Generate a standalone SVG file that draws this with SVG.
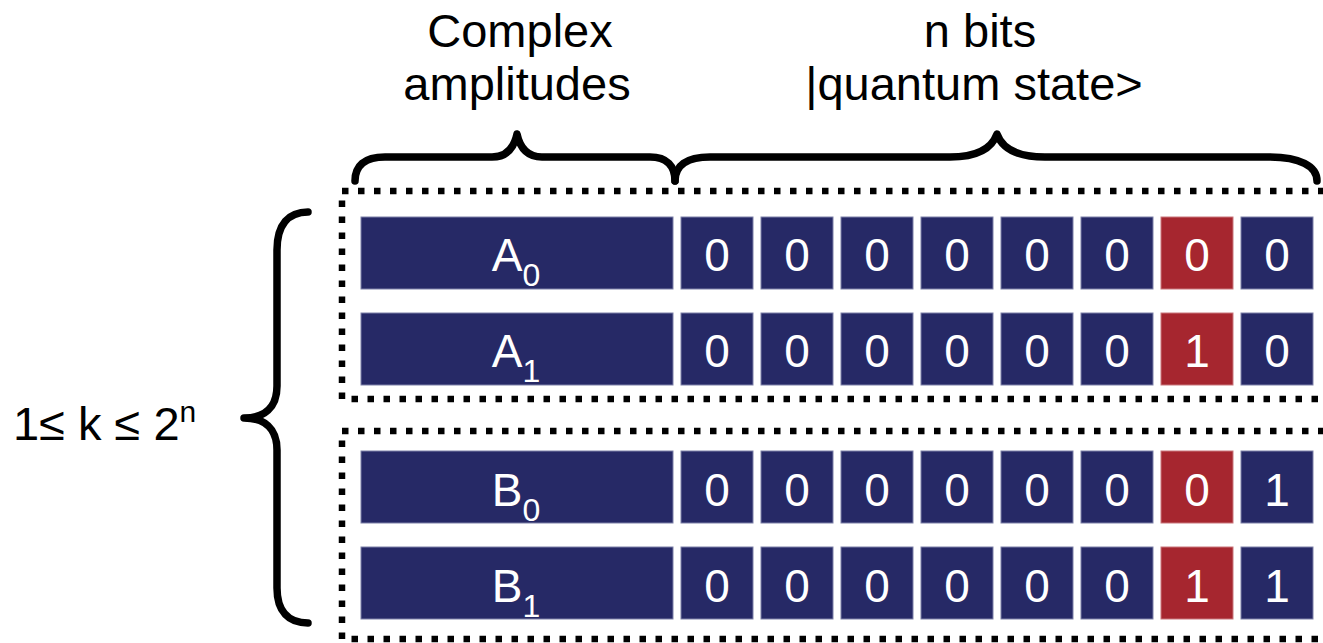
<svg xmlns="http://www.w3.org/2000/svg" width="1323" height="643" viewBox="0 0 1323 643">
  <style>
    .lbl { font-family: "Liberation Sans", Arial, sans-serif; fill: #000; font-size: 47px; text-anchor: middle; }
    .cell { fill: #262966; stroke: #7d80a8; stroke-width: 1; }
    .hot { fill: #a6262f; stroke: #c9777c; stroke-width: 1; }
    .txt { font-family: "Liberation Sans", Arial, sans-serif; fill: #fff; font-size: 46px; text-anchor: middle; }
    .brace { fill: none; stroke: #000; stroke-width: 7.5; stroke-linecap: round; stroke-linejoin: round; }
    .group { fill: none; stroke: #000; stroke-width: 6.5; stroke-dasharray: 6.5 9.5; }
  </style>
  <rect width="1323" height="643" fill="#fff"/>

  <!-- headings -->
  <g id="heading-amplitudes">
    <text class="lbl" x="520" y="47">Complex</text>
    <text class="lbl" x="517" y="100">amplitudes</text>
  </g>
  <g id="heading-bits">
    <text class="lbl" x="980" y="47">n bits</text>
    <text class="lbl" x="974" y="100">|quantum state&gt;</text>
  </g>
  <g id="heading-k">
    <text class="lbl" x="13" y="440" style="text-anchor:start">1≤ k ≤ 2<tspan font-size="30" dy="-18">n</tspan></text>
  </g>

  <!-- braces -->
  <g id="braces">
    <path class="brace" d="M355,181 C355,166 364,157 385,157 L492,157 C507,157 514,148 517,134 C520,148 527,157 542,157 L650,157 C667,157 675,166 675,181"/>
    <path class="brace" d="M675,181 C675,166 686,157 710,157 L950,157 C978,157 992,148 997,134 C1002,148 1016,157 1045,157 L1268,157 C1300,157 1317,166 1317,181"/>
    <path class="brace" d="M308,212 C289,212 277,224 277,250 L277,386 C277,408 264,418 244,418 C264,418 277,428 277,450 L277,588 C277,612 289,623 308,623"/>
  </g>

  <!-- dotted groupings -->
  <g id="group-a">
    <rect class="group" x="342" y="191" width="1000" height="208"/>
  </g>
  <g id="group-b">
    <rect class="group" x="342" y="431" width="1000" height="208"/>
  </g>

  <!-- row A0 -->
  <g id="row-a0">
    <rect class="cell" x="361" y="217" width="312" height="72"/>
    <text class="txt" x="516" y="271">A<tspan font-size="32" dy="15">0</tspan></text>
    <rect class="cell" x="681" y="217" width="72" height="72"/><text class="txt" x="717" y="271">0</text>
    <rect class="cell" x="761" y="217" width="72" height="72"/><text class="txt" x="797" y="271">0</text>
    <rect class="cell" x="841" y="217" width="72" height="72"/><text class="txt" x="877" y="271">0</text>
    <rect class="cell" x="921" y="217" width="72" height="72"/><text class="txt" x="957" y="271">0</text>
    <rect class="cell" x="1001" y="217" width="72" height="72"/><text class="txt" x="1037" y="271">0</text>
    <rect class="cell" x="1081" y="217" width="72" height="72"/><text class="txt" x="1117" y="271">0</text>
    <rect class="hot" x="1161" y="217" width="72" height="72"/><text class="txt" x="1197" y="271">0</text>
    <rect class="cell" x="1241" y="217" width="72" height="72"/><text class="txt" x="1277" y="271">0</text>
  </g>

  <!-- row A1 -->
  <g id="row-a1">
    <rect class="cell" x="361" y="313" width="312" height="72"/>
    <text class="txt" x="516" y="367">A<tspan font-size="32" dy="15">1</tspan></text>
    <rect class="cell" x="681" y="313" width="72" height="72"/><text class="txt" x="717" y="367">0</text>
    <rect class="cell" x="761" y="313" width="72" height="72"/><text class="txt" x="797" y="367">0</text>
    <rect class="cell" x="841" y="313" width="72" height="72"/><text class="txt" x="877" y="367">0</text>
    <rect class="cell" x="921" y="313" width="72" height="72"/><text class="txt" x="957" y="367">0</text>
    <rect class="cell" x="1001" y="313" width="72" height="72"/><text class="txt" x="1037" y="367">0</text>
    <rect class="cell" x="1081" y="313" width="72" height="72"/><text class="txt" x="1117" y="367">0</text>
    <rect class="hot" x="1161" y="313" width="72" height="72"/><text class="txt" x="1197" y="367">1</text>
    <rect class="cell" x="1241" y="313" width="72" height="72"/><text class="txt" x="1277" y="367">0</text>
  </g>

  <!-- row B0 -->
  <g id="row-b0">
    <rect class="cell" x="361" y="451" width="312" height="72"/>
    <text class="txt" x="516" y="506">B<tspan font-size="32" dy="15">0</tspan></text>
    <rect class="cell" x="681" y="451" width="72" height="72"/><text class="txt" x="717" y="506">0</text>
    <rect class="cell" x="761" y="451" width="72" height="72"/><text class="txt" x="797" y="506">0</text>
    <rect class="cell" x="841" y="451" width="72" height="72"/><text class="txt" x="877" y="506">0</text>
    <rect class="cell" x="921" y="451" width="72" height="72"/><text class="txt" x="957" y="506">0</text>
    <rect class="cell" x="1001" y="451" width="72" height="72"/><text class="txt" x="1037" y="506">0</text>
    <rect class="cell" x="1081" y="451" width="72" height="72"/><text class="txt" x="1117" y="506">0</text>
    <rect class="hot" x="1161" y="451" width="72" height="72"/><text class="txt" x="1197" y="506">0</text>
    <rect class="cell" x="1241" y="451" width="72" height="72"/><text class="txt" x="1277" y="506">1</text>
  </g>

  <!-- row B1 -->
  <g id="row-b1">
    <rect class="cell" x="361" y="547" width="312" height="72"/>
    <text class="txt" x="516" y="602">B<tspan font-size="32" dy="15">1</tspan></text>
    <rect class="cell" x="681" y="547" width="72" height="72"/><text class="txt" x="717" y="602">0</text>
    <rect class="cell" x="761" y="547" width="72" height="72"/><text class="txt" x="797" y="602">0</text>
    <rect class="cell" x="841" y="547" width="72" height="72"/><text class="txt" x="877" y="602">0</text>
    <rect class="cell" x="921" y="547" width="72" height="72"/><text class="txt" x="957" y="602">0</text>
    <rect class="cell" x="1001" y="547" width="72" height="72"/><text class="txt" x="1037" y="602">0</text>
    <rect class="cell" x="1081" y="547" width="72" height="72"/><text class="txt" x="1117" y="602">0</text>
    <rect class="hot" x="1161" y="547" width="72" height="72"/><text class="txt" x="1197" y="602">1</text>
    <rect class="cell" x="1241" y="547" width="72" height="72"/><text class="txt" x="1277" y="602">1</text>
  </g>
</svg>
